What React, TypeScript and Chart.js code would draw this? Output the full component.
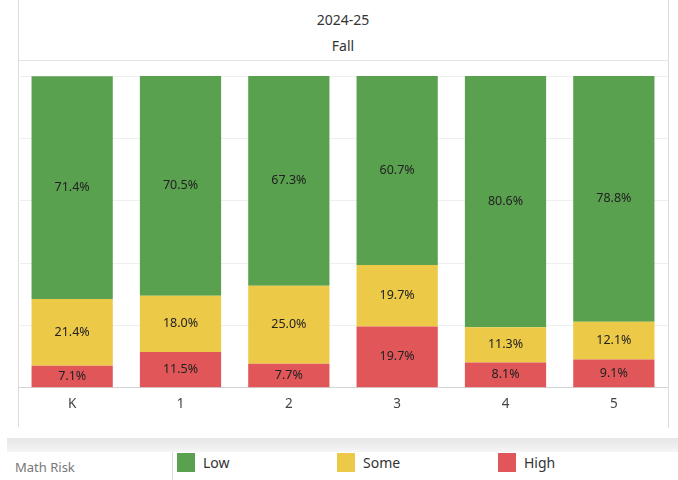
import React, { useEffect, useRef } from "react";
import { Chart, registerables } from "chart.js";

Chart.register(...registerables);

const categories = ["K", "1", "2", "3", "4", "5"];
const highValues = [7.1, 11.5, 7.7, 19.7, 8.1, 9.1];
const someValues = [21.4, 18.0, 25.0, 19.7, 11.3, 12.1];
const lowValues = [71.4, 70.5, 67.3, 60.7, 80.6, 78.8];
const legendNames = ["Low", "Some", "High"];
const legendTitle = "Math Risk";
const headerYear = "2024-25";
const headerTerm = "Fall";

const GREEN = "#59a14f";
const YELLOW = "#edc948";
const RED = "#e15759";
const FONT = '"Noto Sans", "Open Sans", sans-serif';

const segLabels = {
  id: "segLabels",
  afterDatasetsDraw(chart: any) {
    const ctx = chart.ctx;
    ctx.save();
    ctx.font = `12.5px ${FONT}`;
    ctx.fillStyle = "#222";
    ctx.textAlign = "center";
    ctx.textBaseline = "middle";
    chart.data.datasets.forEach((ds: any, i: number) => {
      const meta = chart.getDatasetMeta(i);
      meta.data.forEach((bar: any, j: number) => {
        const p = bar.getProps(["x", "y", "base"], true);
        ctx.fillText(Number(ds.data[j]).toFixed(1) + "%", p.x, (p.y + p.base) / 2);
      });
    });
    ctx.restore();
  },
};

function StackChart() {
  const ref = useRef<HTMLCanvasElement | null>(null);
  useEffect(() => {
    if (!ref.current) return;
    const chart = new Chart(ref.current, {
      type: "bar",
      data: {
        labels: categories,
        datasets: [
          { label: legendNames[2], data: highValues, backgroundColor: RED },
          { label: legendNames[1], data: someValues, backgroundColor: YELLOW },
          { label: legendNames[0], data: lowValues, backgroundColor: GREEN },
        ],
      },
      options: {
        animation: false,
        responsive: false,
        maintainAspectRatio: false,
        layout: { padding: { top: 16, bottom: 7, left: 0, right: 0 } },
        datasets: {
          bar: { categoryPercentage: 1, barPercentage: 0.75, borderWidth: 0 },
        },
        plugins: {
          legend: { display: false },
          tooltip: { enabled: false },
        },
        scales: {
          x: {
            stacked: true,
            grid: { display: false, drawTicks: false },
            border: { display: true, color: "#d4d4d4" },
            ticks: { color: "#444", font: { family: FONT, size: 13.5 }, padding: 8 },
          },
          y: {
            stacked: true,
            min: 0,
            max: 100,
            ticks: { display: false, stepSize: 20 },
            grid: { color: "#efefef", drawTicks: false },
            border: { display: false },
          },
        },
      },
      plugins: [segLabels],
    } as any);
    return () => chart.destroy();
  }, []);
  return (
    <canvas
      ref={ref}
      width={650}
      height={367}
      style={{ position: "absolute", left: 18, top: 60, width: 650, height: 367 }}
    />
  );
}

export default function App() {
  const legendColors = [GREEN, YELLOW, RED];
  const legendX = [177, 337, 498];
  return (
    <div
      style={{
        position: "absolute",
        left: 0,
        top: 0,
        width: 678,
        height: 480,
        background: "#fff",
        overflow: "hidden",
        fontFamily: FONT,
      }}
    >
      <div style={{ position: "absolute", left: 18, top: 0, width: 1, height: 427, background: "#dcdcdc" }} />
      <div style={{ position: "absolute", left: 668, top: 0, width: 1, height: 428, background: "#dcdcdc" }} />
      <div style={{ position: "absolute", left: 18, top: 60, width: 651, height: 1, background: "#e4e4e4" }} />
      <div
        style={{
          position: "absolute",
          left: 18,
          top: 10,
          width: 650,
          textAlign: "center",
          fontSize: 14,
          color: "#333",
          lineHeight: "20px",
        }}
      >
        {headerYear}
      </div>
      <div
        style={{
          position: "absolute",
          left: 18,
          top: 36,
          width: 650,
          textAlign: "center",
          fontSize: 14,
          color: "#333",
          lineHeight: "20px",
        }}
      >
        {headerTerm}
      </div>
      <StackChart />
      <div
        style={{
          position: "absolute",
          left: 7,
          top: 438,
          width: 671,
          height: 14,
          background: "linear-gradient(#e6e6e6, #f5f5f5)",
        }}
      />
      <div style={{ position: "absolute", left: 172, top: 452, width: 1, height: 28, background: "#dcdcdc" }} />
      <div
        style={{
          position: "absolute",
          left: 15,
          top: 458,
          fontSize: 13,
          color: "#777",
          lineHeight: "18px",
        }}
      >
        {legendTitle}
      </div>
      {legendNames.map((name, i) => (
        <React.Fragment key={name}>
          <div
            style={{
              position: "absolute",
              left: legendX[i],
              top: 453,
              width: 18,
              height: 19,
              background: legendColors[i],
            }}
          />
          <div
            style={{
              position: "absolute",
              left: legendX[i] + 26,
              top: 453,
              fontSize: 14,
              color: "#333",
              lineHeight: "19px",
            }}
          >
            {name}
          </div>
        </React.Fragment>
      ))}
    </div>
  );
}
